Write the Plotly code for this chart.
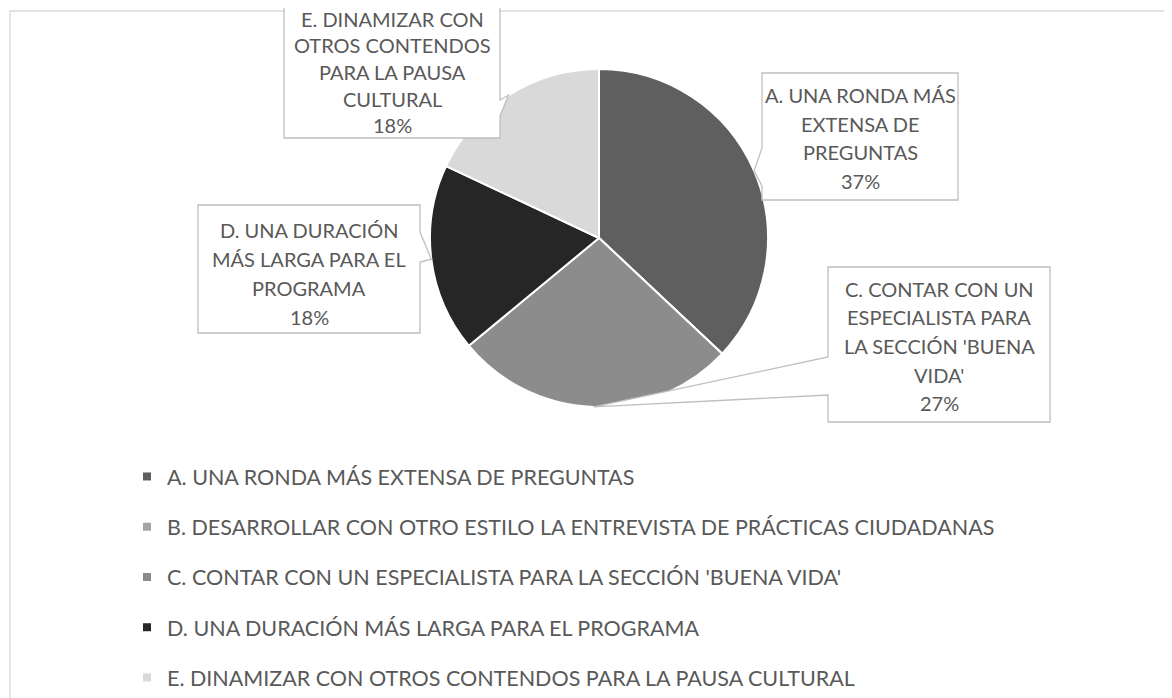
import math
import plotly.graph_objects as go

W, H = 1172, 698
OFF = 8  # page body margin

categorias = [
    "A. UNA RONDA MÁS EXTENSA DE PREGUNTAS",
    "B. DESARROLLAR CON OTRO ESTILO LA ENTREVISTA DE PRÁCTICAS CIUDADANAS",
    "C. CONTAR CON UN ESPECIALISTA PARA LA SECCIÓN 'BUENA VIDA'",
    "D. UNA DURACIÓN MÁS LARGA PARA EL PROGRAMA",
    "E. DINAMIZAR CON OTROS CONTENDOS PARA LA PAUSA CULTURAL",
]
porcentajes = [37, 0, 27, 18, 18]
etiquetas = [
    ["A. UNA RONDA MÁS", "EXTENSA DE", "PREGUNTAS"],
    [],
    ["C. CONTAR CON UN", "ESPECIALISTA PARA", "LA SECCIÓN 'BUENA", "VIDA'"],
    ["D. UNA DURACIÓN", "MÁS LARGA PARA EL", "PROGRAMA"],
    ["E. DINAMIZAR CON", "OTROS CONTENDOS", "PARA LA PAUSA", "CULTURAL"],
]
colores = ["#5f5f5f", "#a5a5a5", "#8c8c8c", "#262626", "#d9d9d9"]

FONT = "Lato"
GRIS_TXT = "#595959"
GRIS_BORDE = "#bfbfbf"

# pie geometry in pixels
cx, cy, r = 599, 238, 169

# callout boxes in pixels: x0, y0, x1, y1, pointer side, pointer base y, first text line y, line step
cajas = {
    0: (762, 73, 958, 200, "left", 148, 186, 95, 28.5),
    2: (828, 267, 1050, 422, "left", 357, 395, 289, 28.5),
    3: (198, 205, 420, 333, "right", 232, 262, 230, 29),
    4: (284, -5, 500, 138, "right", 100, 116, 19, 26.5),
}


def px(x):
    return (x - OFF) / W


def py(y):
    return 1 - (y - OFF) / H


fig = go.Figure()

fig.add_trace(go.Pie(
    labels=categorias, values=porcentajes, sort=False, direction="clockwise",
    rotation=0, textinfo="none", hoverinfo="label+percent", showlegend=False,
    marker=dict(colors=colores, line=dict(color="white", width=2)),
    domain=dict(x=[px(cx - r), px(cx + r)], y=[py(cy + r), py(cy - r)]),
))

# legend entries
for cat, col in zip(categorias, colores):
    fig.add_trace(go.Scatter(
        x=[None], y=[None], mode="markers", name=cat, legendgroup=cat,
        marker=dict(symbol="square", size=8, color=col),
    ))

shapes = [dict(type="rect", xref="paper", yref="paper",
               x0=px(10), x1=px(W + 30), y0=py(11), y1=py(H + 30),
               line=dict(color="#d9d9d9", width=1.3), layer="below")]
annotations = []

total = sum(porcentajes)
acum = 0
for i, v in enumerate(porcentajes):
    mid = (acum + v / 2) / total * 2 * math.pi
    acum += v
    if i not in cajas:
        continue
    x0, y0, x1, y1, lado, b1, b2, t0, paso = cajas[i]
    tx = cx + r * math.sin(mid)
    ty = cy - r * math.cos(mid)
    if lado == "left":
        pts = [(x0, y0), (x1, y0), (x1, y1), (x0, y1), (x0, b2), (tx, ty), (x0, b1)]
    else:
        pts = [(x0, y0), (x1, y0), (x1, b1), (tx, ty), (x1, b2), (x1, y1), (x0, y1)]
    path = "M " + " L ".join(f"{px(a):.5f},{py(b):.5f}" for a, b in pts) + " Z"
    shapes.append(dict(type="path", xref="paper", yref="paper", path=path,
                       fillcolor="white", line=dict(color=GRIS_BORDE, width=1.3),
                       layer="above"))
    pct = round(v / total * 100)
    lineas = etiquetas[i] + [f"{pct}%"]
    for k, linea in enumerate(lineas):
        annotations.append(dict(
            xref="paper", yref="paper", x=px((x0 + x1) / 2), y=py(t0 + k * paso),
            text=linea, showarrow=False, xanchor="center", yanchor="middle",
            font=dict(family=FONT, size=20, color=GRIS_TXT),
        ))

fig.update_layout(
    width=W, height=H,
    margin=dict(l=0, r=0, t=0, b=0),
    paper_bgcolor="white", plot_bgcolor="white",
    xaxis=dict(visible=False), yaxis=dict(visible=False),
    shapes=shapes, annotations=annotations,
    showlegend=True,
    legend=dict(
        x=px(127), y=py(456), xanchor="left", yanchor="top",
        font=dict(family=FONT, size=21.5, color=GRIS_TXT),
        tracegroupgap=19.3, itemwidth=30, bgcolor="rgba(0,0,0,0)",
    ),
)

fig.write_html("out.html")
